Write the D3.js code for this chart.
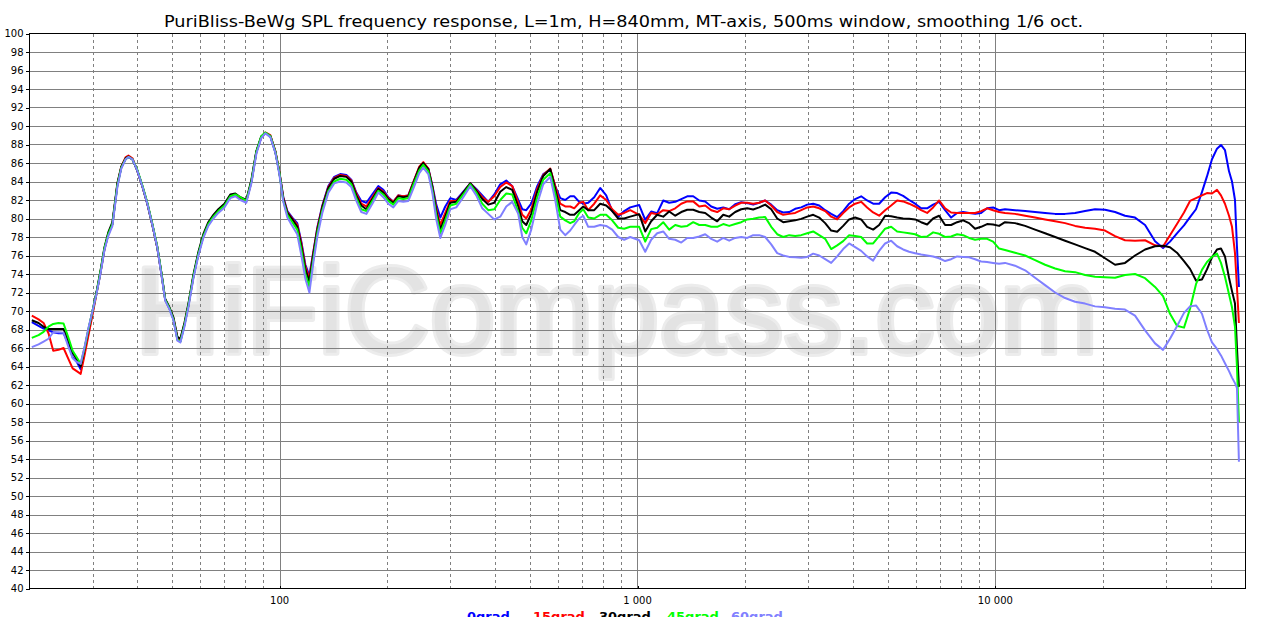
<!DOCTYPE html>
<html>
<head>
<meta charset="utf-8">
<script src="https://cdn.jsdelivr.net/npm/d3@7/dist/d3.min.js"></script>
<style>
body { margin: 0; background: #fff; }
svg { display: block; }
</style>
</head>
<body>
<div id="chart-area"></div>
<script>
/*
*   SPL frequency response, 5 off-axis angles
*/
var freqHz = [
    20.3, 21.2, 21.9, 22.6, 23.3, 24.1, 24.9, 25.7, 26.4, 27.1, 27.8,
    28.5, 29.2, 30.0, 30.8, 31.6, 32.4, 33.2, 34.1, 35.2, 36.1, 37.1, 37.8, 38.8, 40.0, 41.4, 42.7, 44.1, 45.5, 46.7, 47.9,
    49.2, 50.5, 51.8, 52.8, 54.2, 55.6, 57.4, 59.3, 61.2, 63.2, 65.3, 67.4, 70.1, 72.8, 75.2, 77.7, 80.7, 83.4, 86.1, 88.9,
    91.2, 94.2, 97.3, 99.8,
    102.4, 105.1, 108.5, 112.0, 115.0, 118.0, 121.1, 124.2, 127.4, 131.6, 136.8, 142.1, 147.7, 153.6, 158.6, 163.8, 169.1,
    174.7, 181.6, 188.7, 194.9, 201.2, 207.8, 214.6, 221.6, 228.9, 237.9, 245.6, 252.0, 260.3, 267.1, 274.0, 281.2, 290.3,
    299.8, 311.6, 326.0, 341.0, 354.4, 368.4, 382.8, 397.9, 413.5, 429.8, 446.7, 464.3, 476.4, 488.8, 504.8, 524.6, 545.3,
    570.4, 589.0, 608.3, 628.1, 648.6, 665.6, 687.3, 705.2, 728.3, 756.9, 786.6, 817.6, 849.7, 883.2, 918.0, 954.1,
    1011, 1051, 1092, 1135, 1180, 1226, 1275, 1325, 1377, 1431, 1488, 1546, 1607, 1670, 1736, 1804, 1875, 1949, 2026, 2105,
    2188, 2274, 2364, 2457, 2553, 2654, 2758, 2867, 2980, 3097, 3219, 3345, 3477, 3614, 3756, 3903, 4057, 4217, 4382, 4555,
    4734, 4920, 5114, 5315, 5524, 5741, 5967, 6202, 6446, 6700, 6963, 7237, 7522, 7818, 8126, 8445, 8778, 9123, 9482, 9855,
    10243,
    10640, 11350, 12110, 12910, 13770, 14690, 15660, 16700, 17810, 18990, 20250, 21600, 23030, 24560, 26200, 27940, 29410,
    30760, 32170, 33660, 34990, 36360, 37780, 39020, 40300, 41620, 42700, 43810, 44970, 45840, 46730, 47320, 47930
];

var grad0 = [
    68.8, 68.4, 68.1, 67.9, 67.7, 67.6, 67.6, 66.4, 65.0, 64.5, 63.7,
    65.6, 67.6, 69.8, 72.0, 74.2, 76.7, 78.3, 79.4, 83.6, 85.5, 86.4, 86.65, 86.4, 85.2, 83.4, 81.6, 79.3, 76.9, 74.1, 71.2,
    70.3, 69.1, 66.9, 66.7, 68.5, 70.6, 73.7, 76.2, 78.1, 79.4, 80.2, 80.8, 81.4, 82.4, 82.6, 82.2, 81.9, 84.0, 87.2, 88.8,
    89.25, 88.9, 87.2, 85.0,
    82.3, 80.8, 80.1, 79.5, 77.5, 75.0, 73.8, 76.4, 79.0, 81.4, 83.5, 84.5, 84.8, 84.7, 84.2, 82.8, 81.9,
    81.7, 82.6, 83.5, 83.1, 82.3, 81.8, 82.5, 82.4, 82.5, 84.2, 85.5, 86.0, 85.4, 83.6, 81.5, 80.1, 81.3,
    82.2, 82.0, 82.9, 83.8, 83.2, 82.5, 81.8, 82.6, 83.7, 84.1, 83.5, 82.0, 81.0, 80.9, 81.6, 83.5, 84.8,
    85.3, 83.5, 82.2, 82.0, 82.4, 82.4, 81.8, 81.6, 81.7, 82.3, 83.3, 82.5, 80.8, 80.2, 80.8, 81.2,
    81.45, 79.86, 80.76, 80.58, 81.95, 81.7, 81.8, 82.1, 82.4, 82.4, 81.95, 81.84, 81.3, 81.05, 81.2, 81.0, 81.55, 81.77, 81.66, 81.5,
    81.7, 81.95, 81.5, 80.9, 80.65, 80.7, 81.05, 81.2, 81.5, 81.6, 81.4, 80.9, 80.5, 80.15, 80.8, 81.6, 82.1, 82.4, 81.95, 81.6,
    81.6, 82.3, 82.8, 82.75, 82.45, 82.0, 81.6, 81.1, 81.1, 81.5, 81.8, 80.9, 80.1, 80.6, 80.7, 80.6, 80.5, 80.6, 81.1, 81.2,
    80.9,
    81.0, 80.9, 80.8, 80.7, 80.6, 80.5, 80.5, 80.6, 80.8, 81.0, 80.95, 80.7, 80.3, 80.1, 79.3, 77.55, 76.8,
    77.5, 78.4, 79.25, 80.15, 81.0, 82.85, 84.55, 86.4, 87.55, 87.95, 87.4, 85.1, 84.0, 82.0, 77.0, 72.6
];

var grad15 = [
    69.5, 69.1, 68.7, 67.6, 65.7, 65.8, 66.0, 64.8, 63.8, 63.5, 63.2,
    65.2, 67.3, 69.6, 71.9, 74.2, 76.7, 78.3, 79.4, 83.7, 85.6, 86.6, 86.8, 86.5, 85.2, 83.4, 81.6, 79.3, 76.9, 74.1, 71.2,
    70.3, 69.2, 67.1, 66.9, 68.6, 70.6, 73.7, 76.2, 78.1, 79.4, 80.2, 80.8, 81.4, 82.3, 82.5, 82.1, 81.9, 84.0, 87.2, 88.8,
    89.3, 89.0, 87.3, 85.1,
    82.2, 80.7, 80.0, 79.3, 77.3, 74.8, 73.5, 76.3, 78.9, 81.3, 83.4, 84.4, 84.7, 84.6, 84.1, 82.7, 81.6,
    81.3, 82.3, 83.3, 82.9, 82.2, 81.8, 82.5, 82.4, 82.5, 84.2, 85.6, 86.1, 85.4, 83.5, 81.1, 79.3, 80.6,
    81.9, 81.9, 82.8, 83.8, 83.1, 82.3, 81.8, 82.4, 83.4, 83.9, 83.5, 81.7, 80.4, 80.0, 81.0, 83.2, 84.7,
    85.4, 83.5, 81.6, 81.3, 81.3, 81.1, 81.7, 81.8, 80.9, 81.6, 82.5, 82.0, 81.0, 80.4, 80.6, 80.9,
    80.4, 79.5, 80.6, 80.45, 80.9, 80.8, 81.1, 81.6, 81.85, 81.85, 81.3, 81.4, 80.9, 80.7, 81.1, 81.0, 81.4, 81.7, 81.7, 81.6,
    81.7, 81.95, 81.4, 80.7, 80.4, 80.5, 80.6, 80.9, 81.2, 81.3, 81.1, 80.8, 80.2, 79.9, 80.6, 81.2, 81.6, 81.8, 81.2, 80.65,
    80.3, 80.9, 81.4, 81.95, 81.85, 81.6, 81.3, 80.9, 80.6, 81.2, 81.95, 81.1, 80.65, 80.6, 80.6, 80.6, 80.6, 80.8, 81.1, 80.9,
    80.7,
    80.6, 80.5, 80.3, 80.1, 79.9, 79.7, 79.5, 79.2, 79.0, 78.9, 78.7, 78.1, 77.65, 77.6, 77.65, 77.1, 76.97,
    78.2, 79.4, 80.65, 81.9, 82.2, 82.5, 82.75, 82.7, 83.1, 82.5, 81.6, 80.3, 79.1, 76.25, 72.6, 68.7
];

var grad30 = [
    69.0, 68.7, 68.3, 68.05, 68.05, 68.05, 68.05, 66.8, 65.5, 64.8, 64.0,
    65.9, 67.9, 70.0, 72.1, 74.4, 76.9, 78.5, 79.6, 83.8, 85.6, 86.5, 86.7, 86.4, 85.2, 83.4, 81.6, 79.3, 76.9, 74.2, 71.3,
    70.4, 69.3, 67.2, 67.0, 68.7, 70.8, 73.9, 76.4, 78.3, 79.6, 80.4, 81.0, 81.6, 82.6, 82.7, 82.3, 82.0, 84.2, 87.3, 88.9,
    89.25, 88.9, 87.2, 85.0,
    82.1, 80.6, 79.9, 79.1, 77.0, 74.5, 73.2, 76.1, 78.7, 81.2, 83.3, 84.3, 84.6, 84.5, 84.0, 82.5, 81.4,
    81.0, 82.1, 83.2, 82.8, 82.1, 81.7, 82.4, 82.3, 82.4, 84.1, 85.5, 86.0, 85.3, 83.4, 80.8, 78.8, 80.2,
    81.7, 81.8, 82.8, 83.8, 83.0, 82.1, 81.5, 81.7, 82.9, 83.4, 83.1, 81.3, 79.7, 79.3, 80.5, 82.9, 84.6,
    85.35, 83.2, 80.9, 80.7, 80.4, 80.4, 80.9, 81.3, 80.9, 80.9, 81.6, 81.4, 80.8, 80.0, 80.0, 80.2,
    80.47, 78.6, 79.7, 80.4, 80.2, 80.76, 80.3, 80.7, 80.94, 80.94, 80.7, 80.6, 80.1, 79.7, 80.4, 80.2, 80.7, 81.0, 81.1, 80.98,
    81.2, 81.5, 81.0, 80.0, 79.6, 79.7, 79.8, 79.96, 80.2, 80.4, 80.1, 79.5, 78.7, 78.56, 79.2, 79.9, 80.1, 79.9, 79.1, 78.8,
    79.3, 80.3, 80.25, 80.1, 80.0, 79.97, 79.9, 79.6, 79.35, 80.0, 80.3, 79.3, 79.3, 79.6, 79.8, 79.5, 78.9, 79.1, 79.4, 79.35,
    79.2,
    79.6, 79.5, 79.2, 78.8, 78.4, 78.0, 77.6, 77.2, 76.8, 76.4, 75.7, 75.0, 75.2, 76.0, 76.65, 77.0, 77.05,
    76.9, 76.3, 75.4, 74.55, 73.3, 73.4, 74.5, 75.8, 76.65, 76.75, 75.9, 73.6, 72.15, 70.8, 66.1, 61.8
];

var grad45 = [
    67.1, 67.4, 67.75, 68.3, 68.6, 68.7, 68.65, 67.1, 65.7, 65.0, 64.3,
    66.0, 68.0, 70.0, 72.0, 74.3, 76.8, 78.3, 79.4, 83.6, 85.5, 86.4, 86.65, 86.4, 85.3, 83.5, 81.7, 79.4, 77.0, 74.2, 71.2,
    70.3, 69.1, 66.9, 66.7, 68.5, 70.6, 73.7, 76.2, 78.1, 79.4, 80.2, 80.8, 81.4, 82.4, 82.6, 82.3, 81.9, 84.0, 87.2, 88.9,
    89.3, 88.9, 87.2, 85.0,
    81.9, 80.4, 79.6, 78.8, 76.6, 74.0, 72.6, 75.6, 78.4, 80.9, 83.0, 84.0, 84.3, 84.2, 83.7, 82.2, 81.0,
    80.8, 81.9, 83.0, 82.6, 81.9, 81.5, 82.2, 82.1, 82.2, 83.9, 85.2, 85.8, 85.1, 83.1, 80.4, 78.4, 79.8,
    81.4, 81.6, 82.6, 83.7, 82.8, 81.6, 80.9, 81.0, 82.0, 82.7, 82.6, 80.7, 79.0, 78.4, 79.8, 82.3, 84.2,
    84.9, 82.7, 80.2, 79.8, 79.5, 79.7, 80.6, 81.0, 80.1, 80.0, 80.4, 80.4, 79.8, 79.0, 78.9, 79.1,
    79.1, 77.5, 78.85, 79.0, 79.6, 78.8, 79.3, 79.1, 79.2, 79.6, 79.3, 79.3, 79.1, 79.1, 79.4, 79.2, 79.4, 79.6, 79.9, 79.97,
    80.1, 80.15, 79.1, 78.3, 78.0, 78.2, 78.1, 78.2, 78.4, 78.6, 78.2, 77.8, 76.7, 77.1, 77.55, 78.2, 78.1, 78.0, 77.3, 77.3,
    78.1, 78.9, 79.1, 78.6, 78.5, 78.4, 78.3, 78.0, 78.05, 78.5, 78.35, 78.0, 78.05, 78.3, 78.2, 77.9, 77.7, 77.8, 77.8, 77.5,
    76.75,
    76.6, 76.3, 76.0, 75.5, 75.0, 74.6, 74.3, 74.2, 73.9, 73.7, 73.65, 73.6, 73.9, 74.0, 73.55, 72.6, 71.6,
    69.7, 68.4, 68.2, 70.25, 72.9, 74.45, 75.3, 75.85, 76.2, 75.2, 73.7, 71.8, 70.4, 68.3, 64.0, 58.0
];

var grad60 = [
    66.1, 66.4, 66.7, 67.0, 67.7, 67.7, 67.65, 66.1, 64.9, 64.5, 64.3,
    66.1, 68.1, 70.0, 71.9, 74.1, 76.6, 78.1, 79.2, 83.4, 85.4, 86.4, 86.65, 86.4, 85.2, 83.4, 81.6, 79.3, 76.9, 74.0, 71.1,
    70.2, 69.0, 66.8, 66.6, 68.3, 70.4, 73.5, 76.0, 77.9, 79.2, 80.0, 80.6, 81.2, 82.2, 82.4, 82.0, 81.7, 83.8, 87.0, 88.7,
    89.2, 88.8, 87.1, 84.8,
    81.8, 80.1, 79.2, 78.3, 76.0, 73.5, 72.0, 75.2, 78.0, 80.6, 82.8, 83.8, 84.0, 83.9, 83.4, 81.9, 80.7,
    80.5, 81.6, 82.8, 82.3, 81.6, 81.2, 81.9, 81.8, 81.9, 83.5, 84.9, 85.5, 84.8, 82.8, 79.9, 77.9, 79.3,
    81.0, 81.2, 82.3, 83.5, 82.5, 81.1, 80.5, 79.9, 80.2, 81.3, 81.8, 80.5, 78.0, 77.2, 78.8, 81.6, 83.7,
    84.5, 82.0, 78.8, 78.2, 78.7, 79.3, 80.0, 80.3, 79.1, 79.1, 79.3, 79.2, 78.8, 78.0, 77.7, 78.0,
    77.65, 76.4, 77.7, 78.4, 78.6, 77.8, 77.7, 77.4, 77.9, 77.9, 78.05, 78.3, 77.8, 77.5, 77.9, 77.6, 77.9, 78.0, 77.9, 78.2,
    78.2, 78.0, 77.2, 76.25, 76.0, 75.85, 75.8, 75.75, 75.85, 76.2, 76.0, 75.6, 75.2, 75.9, 76.7, 77.3, 76.9, 76.5, 75.9, 75.45,
    76.5, 77.3, 77.6, 77.0, 76.65, 76.4, 76.25, 76.1, 76.0, 75.9, 75.7, 75.4, 75.6, 75.9, 75.85, 75.8, 75.6, 75.35, 75.3, 75.2,
    75.1,
    75.2, 74.9, 74.4, 73.6, 72.8, 72.0, 71.4, 71.0, 70.8, 70.5, 70.4, 70.25, 70.15, 69.5, 67.9, 66.5, 65.8,
    67.0, 68.35, 69.8, 70.5, 70.6, 69.7, 68.0, 66.6, 65.9, 65.2, 64.35, 63.5, 62.8, 62.2, 61.7, 53.7
];

var seriesNames  = ["0grad", "15grad", "30grad", "45grad", "60grad"];
var seriesValues = [grad0, grad15, grad30, grad45, grad60];
var seriesColors = ["#0000ff", "#ff0000", "#000000", "#00ff00", "#8080ff"];

var yTicks = [40, 42, 44, 46, 48, 50, 52, 54, 56, 58, 60, 62, 64, 66, 68, 70,
              72, 74, 76, 78, 80, 82, 84, 86, 88, 90, 92, 94, 96, 98, 100];
var xDecades = [100, 1000, 10000];
var xDecadeLabels = ["100", "1 000", "10 000"];
var xMinor = [30, 40, 50, 60, 70, 80, 90, 200, 300, 400, 500, 600, 700, 800, 900,
              2000, 3000, 4000, 5000, 6000, 7000, 8000, 9000, 20000, 30000, 40000];

var titleText = "PuriBliss-BeWg SPL frequency response, L=1m, H=840mm, MT-axis, 500ms window, smoothing 1/6 oct.";

var W = 1276, H = 617;
var margin = {left: 29.5, right: 30.5, top: 33.5, bottom: 28.5};
var width = W - margin.left - margin.right;
var height = H - margin.top - margin.bottom;

var svg = d3.select("#chart-area")
    .append("svg")
        .attr("width", W)
        .attr("height", H)
        .style("background", "#fff");

var x = d3.scaleLog()
    .domain([20, 50000])
    .range([margin.left, margin.left + width]);
var y = d3.scaleLinear()
    .domain([40, 100])
    .range([margin.top + height, margin.top]);

// watermark sits behind everything
svg.append("text")
    .attr("x", 135)
    .attr("y", 353)
    .attr("font-family", "Liberation Sans, Arial, sans-serif")
    .attr("font-size", 122)
    .attr("textLength", 963)
    .attr("lengthAdjust", "spacingAndGlyphs")
    .attr("fill", "#e3e3e3")
    .attr("stroke", "#ececec")
    .attr("stroke-width", 6)
    .attr("stroke-linejoin", "round")
    .style("paint-order", "stroke")
    .text("HiFiCompass.com");

// title
svg.append("text")
    .attr("x", 164)
    .attr("y", 27)
    .attr("font-family", "DejaVu Sans, Verdana, sans-serif")
    .attr("font-size", 16)
    .attr("textLength", 919)
    .attr("lengthAdjust", "spacingAndGlyphs")
    .attr("fill", "#000")
    .text(titleText);

// grid
var grid = svg.append("g").attr("shape-rendering", "crispEdges");

grid.selectAll(".hgrid").data(yTicks.filter(function(d){ return d > 40 && d < 100; }))
    .enter().append("line")
        .attr("class", "hgrid")
        .attr("x1", margin.left)
        .attr("x2", margin.left + width)
        .attr("y1", function(d){ return Math.round(y(d)) + 0.5; })
        .attr("y2", function(d){ return Math.round(y(d)) + 0.5; })
        .attr("stroke", "#808080");

grid.selectAll(".vminor").data(xMinor)
    .enter().append("line")
        .attr("class", "vminor")
        .attr("x1", function(d){ return Math.round(x(d)) + 0.5; })
        .attr("x2", function(d){ return Math.round(x(d)) + 0.5; })
        .attr("y1", margin.top)
        .attr("y2", margin.top + height)
        .attr("stroke", "#808080")
        .attr("stroke-dasharray", "3,3");

grid.selectAll(".vmajor").data(xDecades)
    .enter().append("line")
        .attr("class", "vmajor")
        .attr("x1", function(d){ return Math.round(x(d)) + 0.5; })
        .attr("x2", function(d){ return Math.round(x(d)) + 0.5; })
        .attr("y1", margin.top)
        .attr("y2", margin.top + height)
        .attr("stroke", "#808080");

// frame
svg.append("rect")
    .attr("x", margin.left)
    .attr("y", margin.top)
    .attr("width", width)
    .attr("height", height)
    .attr("fill", "none")
    .attr("stroke", "#000")
    .attr("shape-rendering", "crispEdges");

// y axis
var yAxisGroup = svg.append("g")
    .attr("transform", "translate(" + margin.left + ",0)")
    .call(d3.axisLeft(y).tickValues(yTicks).tickSize(4).tickSizeOuter(0).tickPadding(2));
yAxisGroup.select(".domain").remove();
yAxisGroup.selectAll("line").attr("stroke", "#000").attr("shape-rendering", "crispEdges");
yAxisGroup.selectAll("text")
    .attr("font-family", "DejaVu Sans, Verdana, sans-serif")
    .attr("font-size", 10)
    .attr("fill", "#000");

// x axis, decade labels only
var xAxisGroup = svg.append("g")
    .attr("transform", "translate(0," + (margin.top + height) + ")")
    .call(d3.axisTop(x).tickValues(xDecades).tickSize(3).tickSizeOuter(0).tickFormat(""));
xAxisGroup.select(".domain").remove();
xAxisGroup.selectAll("line").attr("stroke", "#000").attr("shape-rendering", "crispEdges");

svg.selectAll(".xlabel").data(xDecades)
    .enter().append("text")
        .attr("class", "xlabel")
        .attr("x", function(d){ return x(d); })
        .attr("y", 603.5)
        .attr("text-anchor", "middle")
        .attr("font-family", "DejaVu Sans, Verdana, sans-serif")
        .attr("font-size", 10)
        .attr("fill", "#000")
        .text(function(d, i){ return xDecadeLabels[i]; });

// curves
svg.append("clipPath")
    .attr("id", "plot-clip")
    .append("rect")
        .attr("x", margin.left)
        .attr("y", margin.top)
        .attr("width", width)
        .attr("height", height);

var line = d3.line()
    .x(function(d){ return x(d[0]); })
    .y(function(d){ return y(d[1]); });

var curves = svg.append("g").attr("clip-path", "url(#plot-clip)");
seriesValues.forEach(function(vals, i){
    var pts = freqHz.map(function(f, j){ return [f, vals[j]]; });
    curves.append("path")
        .datum(pts)
        .attr("d", line)
        .attr("fill", "none")
        .attr("stroke", seriesColors[i])
        .attr("stroke-width", 2)
        .attr("stroke-linejoin", "round");
});

// legend, cut off by the bottom edge like the original
var legendX = [467, 533, 599, 667, 731];
svg.selectAll(".legend").data(seriesNames)
    .enter().append("text")
        .attr("class", "legend")
        .attr("x", function(d, i){ return legendX[i]; })
        .attr("y", 620.5)
        .attr("font-family", "DejaVu Sans, Verdana, sans-serif")
        .attr("font-weight", "bold")
        .attr("font-size", 13)
        .attr("fill", function(d, i){ return seriesColors[i]; })
        .text(function(d){ return d; });
</script>
</body>
</html>
